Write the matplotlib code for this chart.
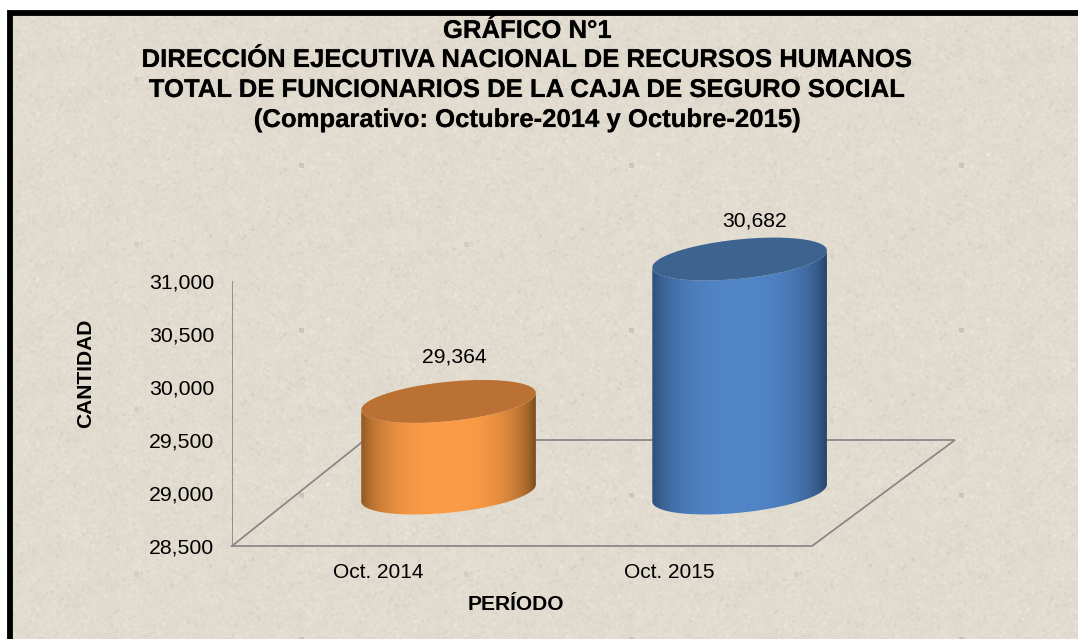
# grafico comparativo de funcionarios, cilindros 3D hechos a mano
import numpy as np
import matplotlib
matplotlib.use('Agg')
import matplotlib.pyplot as plt
import matplotlib.patheffects as pe
from matplotlib.patches import Polygon

categories = ['Oct. 2014', 'Oct. 2015']
values = [29364, 30682]
value_labels = ['29,364', '30,682']
yticks = [28500, 29000, 29500, 30000, 30500, 31000]
title_lines = ['GRÁFICO N°1',
               'DIRECCIÓN EJECUTIVA NACIONAL DE RECURSOS HUMANOS',
               'TOTAL DE FUNCIONARIOS DE LA CAJA DE SEGURO SOCIAL',
               '(Comparativo: Octubre-2014 y Octubre-2015)']
# colour of the cylinder: edge, centre, top
bar_colors = [('#7f4f1f', '#fd9c46', '#bb7133'),
              ('#29466e', '#5185c7', '#3d6391')]

plt.rcParams['font.family'] = ['Liberation Sans', 'DejaVu Sans']

W, H = 1078, 639
fig = plt.figure(figsize=(W/100, H/100), dpi=100)

# background: stone like texture, the picture is a repeated tile
def smooth(a, n):
    k = np.ones(n)/n
    a = np.apply_along_axis(lambda r: np.convolve(np.r_[r, r, r], k, mode='same')[len(r):2*len(r)], 0, a)
    return np.apply_along_axis(lambda r: np.convolve(np.r_[r, r, r], k, mode='same')[len(r):2*len(r)], 1, a)

bg = fig.add_axes([0, 0, 1, 1])
bg.set_axis_off()
rng = np.random.default_rng(3)
th, tw = 165, 330
tile = smooth(rng.normal(size=(th, tw)), 3)*5.5 + smooth(rng.normal(size=(th, tw)), 15)*12
tile += smooth((rng.random((th, tw)) > 0.996)*1., 3)*-55
tile += smooth((rng.random((th, tw)) > 0.996)*1., 3)*40
spots = np.zeros((th, tw))
spots[2, 301] = 1
spots[81, 136] = 0.6
tile += smooth(spots, 5)*-600
tile = np.tile(tile, (H//th+2, W//tw+2))[:H, :W]
tile = np.roll(tile, (-2, 0), axis=(0, 1))
tex = tile[..., None] + np.array([226, 220, 208])
bg.imshow(np.clip(tex, 0, 255).astype(np.uint8), extent=[0, W, H, 0], aspect='auto')
bg.set_xlim(0, W)
bg.set_ylim(H, 0)
# white margin and black frame, no right side
bg.fill_between([0, W], 0, 10, color='white', lw=0)
bg.fill_between([0, 7], 0, H, color='white', lw=0)
bg.plot([10, 10, W], [H, 12.5, 12.5], color='black', lw=4.2, solid_joinstyle='miter')

# plot axes, y pixel 546 -> 28500, 281 -> 31000
ax = fig.add_axes([232/W, 1-546/H, (955-232)/W, 265/H])
ax.patch.set_alpha(0)
for s in ax.spines.values():
    s.set_visible(False)

# floor and wall
grey = '#868686'
floor_depth = 1000.
ax.plot([-0.744, -0.744], [28500, 31000], color=grey, lw=1.25, zorder=1)
ax.plot([-0.744, 1.249, 1.74, -0.288, -0.744], [28500, 28500, 28500+floor_depth, 28500+floor_depth, 28500],
        color=grey, lw=1.25, zorder=1, solid_joinstyle='miter', clip_on=False)

# cylinders
half = 0.3
depth = 500.
b = 186.   # vertical half axis of the ellipse
s = 80.    # shear, the right side sits higher
t = np.linspace(0, 2*np.pi, 200)
label_gap = [60, 8]
label_dx = [0.02, 0.053]
for i, (val, cols) in enumerate(zip(values, bar_colors)):
    x = i + half*np.cos(t)
    y0 = 28500 + depth
    y1 = val + depth + (i*25)
    ybot = y0 + b*np.sin(t) + s*np.cos(t)
    ytop = y1 + b*np.sin(t) + s*np.cos(t)
    # side outline: lower half of bottom, upper side closed by top ellipse
    lo = np.sin(t) <= 0
    order = np.argsort(np.cos(t[lo]))
    xs = x[lo][order]
    side = np.column_stack([np.r_[xs, xs[::-1]],
                            np.r_[ybot[lo][order], ytop[lo][order][::-1]]])
    clip = Polygon(side, closed=True, transform=ax.transData, fc='none', ec='none')
    ax.add_patch(clip)
    edge = np.array(matplotlib.colors.to_rgb(cols[0]))
    mid = np.array(matplotlib.colors.to_rgb(cols[1]))
    u = np.linspace(-1, 1, 256)
    w = np.clip(1-(np.abs(u+0.02)/1.0)**2.6, 0, 1)[:, None]
    w = w**0.7
    grad = (edge*(1-w) + mid*w)[None, :, :]
    im = ax.imshow(grad, extent=[i-half, i+half, y0-b-s, y1+b+s], aspect='auto',
                   zorder=3, interpolation='bilinear', origin='lower')
    im.set_clip_box(fig.bbox)
    im.set_clip_path(clip)
    ax.fill(x, ytop, color=cols[2], lw=0, zorder=4, clip_on=False)
    ax.text(i+label_dx[i], y1+b+s+label_gap[i], value_labels[i], ha='center', va='bottom',
            fontsize=15.2, zorder=5, clip_on=False)

ax.set_xlim(-0.744, 1.74)
ax.set_ylim(28500, 31000)
# category labels sit on the front edge of the floor
ax.set_xticks([-0.243, 0.757], categories, fontsize=15)
ax.set_yticks(yticks, ['{:,}'.format(v) for v in yticks], fontsize=15.3)
ax.tick_params(length=0, pad=13, axis='y')
ax.tick_params(length=0, pad=12, axis='x')

# titles and axis names, the title has a soft shadow
shadow = [pe.withStroke(linewidth=1.0, foreground='#00000018')]
for line, yp in zip(title_lines, [31, 60, 90, 120]):
    fig.text(527.5/W, 1-yp/H, line, ha='center', va='center', fontsize=18.5, fontweight='bold',
             path_effects=shadow)
fig.text(86/W, 1-373.5/H, 'CANTIDAD', rotation=90, ha='center', va='center', fontsize=15.1, fontweight='bold')
fig.text(516/W, 1-604/H, 'PERÍODO', ha='center', va='center', fontsize=15.1, fontweight='bold')

fig.savefig('out.png', dpi=100)
